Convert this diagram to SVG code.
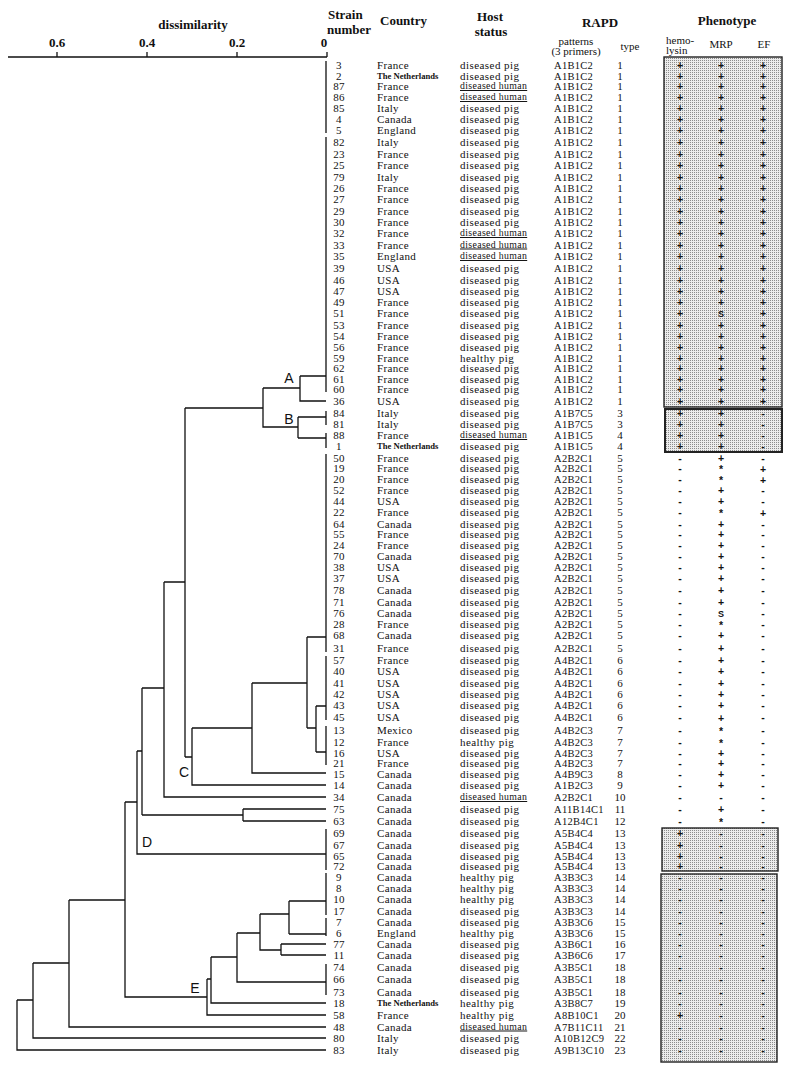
<svg xmlns="http://www.w3.org/2000/svg" width="793" height="1074" viewBox="0 0 793 1074">
<style>
text{font-family:"Liberation Serif",serif;fill:#111}
.n{font-size:11px;letter-spacing:0.3px;text-anchor:middle}
.c{font-size:11px;letter-spacing:0.35px}
.cn{font-size:8.6px;font-weight:bold}
.h{font-size:11px;letter-spacing:0.45px}
.hu{font-size:9.8px;letter-spacing:0.35px;text-decoration:underline}
.r{font-size:10.5px;letter-spacing:0.3px}
.t{font-size:11px;text-anchor:middle}
.p{font-family:"Liberation Sans",sans-serif;font-size:10.5px;font-weight:bold;text-anchor:middle}
.hd{font-weight:bold;font-size:13px}
.hm{text-anchor:middle}
.sm{font-size:11px}
.lb{font-family:"Liberation Sans",sans-serif;font-size:14px;text-anchor:middle}
.ln{fill:none;stroke:#111;stroke-width:1.3}
.bx{fill:url(#dots);stroke:#222;stroke-width:1.4}
</style>
<defs>
<pattern id="dots" width="2" height="2" patternUnits="userSpaceOnUse"><rect width="2" height="2" fill="#ececec"/><rect width="1" height="1" fill="#8c8c8c"/></pattern>
</defs>
<rect width="793" height="1074" fill="#fff"/>
<g id="header">
<text class="hd hm" x="193" y="29">dissimilarity</text>
<text class="hd hm" x="57" y="47">0.6</text>
<text class="hd hm" x="147" y="47">0.4</text>
<text class="hd hm" x="237" y="47">0.2</text>
<text class="hd hm" x="324" y="47">0</text>
<text class="hd" x="328" y="19">Strain</text>
<text class="hd" x="327" y="34">number</text>
<text class="hd" x="380" y="25">Country</text>
<text class="hd hm" x="490" y="21">Host</text>
<text class="hd hm" x="491" y="36">status</text>
<text class="hd hm" x="600" y="27">RAPD</text>
<text class="sm hm" x="576" y="45">patterns</text>
<text class="sm hm" x="576" y="55">(3 primers)</text>
<text class="sm hm" x="630" y="50">type</text>
<text class="hd hm" x="727" y="25">Phenotype</text>
<text class="sm" x="666" y="44">hemo-</text>
<text class="sm" x="666" y="54">lysin</text>
<text class="sm hm" x="721" y="48">MRP</text>
<text class="sm hm" x="764" y="48">EF</text>
</g>
<g id="boxes">
<rect class="bx" x="664" y="57" width="118" height="350"/>
<rect class="bx" x="665" y="409" width="117" height="43" style="stroke-width:2"/>
<rect class="bx" x="662" y="828" width="116" height="43"/>
<rect class="bx" x="661" y="874" width="116" height="188"/>
</g>
<g id="connectors" class="ln">
<path d="M8 57H327M57 52V57M147 52V57M237 52V57M327 52V57"/>
<path d="M326 61V133M326 137V392M300 376H326M300 376V401H326M263 388H300"/>
<path d="M298 417H326M326 411V425M298 438H326M326 433V448M298 417V438M263 388V427H298M185 408H263"/>
<path d="M185 408V757M326 454V652M307 637H326M307 637V728M252 683H307M307 728H316M316 706V752M316 706H326M326 656V720M316 752H326M326 726V765"/>
<path d="M252 683V773H326M192 728H252M192 728V785H326M185 757H192"/>
<path d="M164 582H185M164 582V797H326M142 688H164M142 688V815M142 815H243M243 809V821M243 809H326M243 821H326"/>
<path d="M137 751H142M137 751V854H326M326 829V870M125 802H137M125 802V997H207"/>
<path d="M207 979V1015H326M207 979H211M211 957V1003H326M211 957H237M237 933V982H326M326 964V995"/>
<path d="M237 933H260M260 914V950H281M281 944V955M281 944H326M281 955H326M260 914H289M289 901V934M289 901H326M326 873V915M289 934H326M326 918V936"/>
<path d="M69 900H125M69 900V1027H326M33 963H69M33 963V1038H326M17 1000H33M17 1000V1050H326"/>
</g>
<g id="labels">
<text class="lb" x="289" y="383">A</text>
<text class="lb" x="289" y="424">B</text>
<text class="lb" x="184" y="777">C</text>
<text class="lb" x="147" y="847">D</text>
<text class="lb" x="195" y="993">E</text>
</g>
<g id="rows">
<g id="s3" transform="translate(0,65)"><text class="n" x="339" y="4">3</text><text class="c" x="377" y="4">France</text><text class="h" x="460" y="4">diseased pig</text><text class="r" x="554" y="4">A1B1C2</text><text class="t" x="620" y="4">1</text><text class="p" x="680" y="4">+</text><text class="p" x="721" y="4">+</text><text class="p" x="763" y="4">+</text></g>
<g id="s2" transform="translate(0,75.5)"><text class="n" x="339" y="4">2</text><text class="cn" x="377" y="3">The Netherlands</text><text class="h" x="460" y="4">diseased pig</text><text class="r" x="554" y="4">A1B1C2</text><text class="t" x="620" y="4">1</text><text class="p" x="680" y="4">+</text><text class="p" x="721" y="4">+</text><text class="p" x="763" y="4">+</text></g>
<g id="s87" transform="translate(0,86)"><text class="n" x="339" y="4">87</text><text class="c" x="377" y="4">France</text><text class="hu" x="460" y="3">diseased human</text><text class="r" x="554" y="4">A1B1C2</text><text class="t" x="620" y="4">1</text><text class="p" x="680" y="4">+</text><text class="p" x="721" y="4">+</text><text class="p" x="763" y="4">+</text></g>
<g id="s86" transform="translate(0,97)"><text class="n" x="339" y="4">86</text><text class="c" x="377" y="4">France</text><text class="hu" x="460" y="3">diseased human</text><text class="r" x="554" y="4">A1B1C2</text><text class="t" x="620" y="4">1</text><text class="p" x="680" y="4">+</text><text class="p" x="721" y="4">+</text><text class="p" x="763" y="4">+</text></g>
<g id="s85" transform="translate(0,108)"><text class="n" x="339" y="4">85</text><text class="c" x="377" y="4">Italy</text><text class="h" x="460" y="4">diseased pig</text><text class="r" x="554" y="4">A1B1C2</text><text class="t" x="620" y="4">1</text><text class="p" x="680" y="4">+</text><text class="p" x="721" y="4">+</text><text class="p" x="763" y="4">+</text></g>
<g id="s4" transform="translate(0,118.5)"><text class="n" x="339" y="4">4</text><text class="c" x="377" y="4">Canada</text><text class="h" x="460" y="4">diseased pig</text><text class="r" x="554" y="4">A1B1C2</text><text class="t" x="620" y="4">1</text><text class="p" x="680" y="4">+</text><text class="p" x="721" y="4">+</text><text class="p" x="763" y="4">+</text></g>
<g id="s5" transform="translate(0,129.5)"><text class="n" x="339" y="4">5</text><text class="c" x="377" y="4">England</text><text class="h" x="460" y="4">diseased pig</text><text class="r" x="554" y="4">A1B1C2</text><text class="t" x="620" y="4">1</text><text class="p" x="680" y="4">+</text><text class="p" x="721" y="4">+</text><text class="p" x="763" y="4">+</text></g>
<g id="s82" transform="translate(0,142)"><text class="n" x="339" y="4">82</text><text class="c" x="377" y="4">Italy</text><text class="h" x="460" y="4">diseased pig</text><text class="r" x="554" y="4">A1B1C2</text><text class="t" x="620" y="4">1</text><text class="p" x="680" y="4">+</text><text class="p" x="721" y="4">+</text><text class="p" x="763" y="4">+</text></g>
<g id="s23" transform="translate(0,154)"><text class="n" x="339" y="4">23</text><text class="c" x="377" y="4">France</text><text class="h" x="460" y="4">diseased pig</text><text class="r" x="554" y="4">A1B1C2</text><text class="t" x="620" y="4">1</text><text class="p" x="680" y="4">+</text><text class="p" x="721" y="4">+</text><text class="p" x="763" y="4">+</text></g>
<g id="s25" transform="translate(0,165)"><text class="n" x="339" y="4">25</text><text class="c" x="377" y="4">France</text><text class="h" x="460" y="4">diseased pig</text><text class="r" x="554" y="4">A1B1C2</text><text class="t" x="620" y="4">1</text><text class="p" x="680" y="4">+</text><text class="p" x="721" y="4">+</text><text class="p" x="763" y="4">+</text></g>
<g id="s79" transform="translate(0,177)"><text class="n" x="339" y="4">79</text><text class="c" x="377" y="4">Italy</text><text class="h" x="460" y="4">diseased pig</text><text class="r" x="554" y="4">A1B1C2</text><text class="t" x="620" y="4">1</text><text class="p" x="680" y="4">+</text><text class="p" x="721" y="4">+</text><text class="p" x="763" y="4">+</text></g>
<g id="s26" transform="translate(0,188)"><text class="n" x="339" y="4">26</text><text class="c" x="377" y="4">France</text><text class="h" x="460" y="4">diseased pig</text><text class="r" x="554" y="4">A1B1C2</text><text class="t" x="620" y="4">1</text><text class="p" x="680" y="4">+</text><text class="p" x="721" y="4">+</text><text class="p" x="763" y="4">+</text></g>
<g id="s27" transform="translate(0,199)"><text class="n" x="339" y="4">27</text><text class="c" x="377" y="4">France</text><text class="h" x="460" y="4">diseased pig</text><text class="r" x="554" y="4">A1B1C2</text><text class="t" x="620" y="4">1</text><text class="p" x="680" y="4">+</text><text class="p" x="721" y="4">+</text><text class="p" x="763" y="4">+</text></g>
<g id="s29" transform="translate(0,210.5)"><text class="n" x="339" y="4">29</text><text class="c" x="377" y="4">France</text><text class="h" x="460" y="4">diseased pig</text><text class="r" x="554" y="4">A1B1C2</text><text class="t" x="620" y="4">1</text><text class="p" x="680" y="4">+</text><text class="p" x="721" y="4">+</text><text class="p" x="763" y="4">+</text></g>
<g id="s30" transform="translate(0,222)"><text class="n" x="339" y="4">30</text><text class="c" x="377" y="4">France</text><text class="h" x="460" y="4">diseased pig</text><text class="r" x="554" y="4">A1B1C2</text><text class="t" x="620" y="4">1</text><text class="p" x="680" y="4">+</text><text class="p" x="721" y="4">+</text><text class="p" x="763" y="4">+</text></g>
<g id="s32" transform="translate(0,233)"><text class="n" x="339" y="4">32</text><text class="c" x="377" y="4">France</text><text class="hu" x="460" y="3">diseased human</text><text class="r" x="554" y="4">A1B1C2</text><text class="t" x="620" y="4">1</text><text class="p" x="680" y="4">+</text><text class="p" x="721" y="4">+</text><text class="p" x="763" y="4">+</text></g>
<g id="s33" transform="translate(0,244.5)"><text class="n" x="339" y="4">33</text><text class="c" x="377" y="4">France</text><text class="hu" x="460" y="3">diseased human</text><text class="r" x="554" y="4">A1B1C2</text><text class="t" x="620" y="4">1</text><text class="p" x="680" y="4">+</text><text class="p" x="721" y="4">+</text><text class="p" x="763" y="4">+</text></g>
<g id="s35" transform="translate(0,256)"><text class="n" x="339" y="4">35</text><text class="c" x="377" y="4">England</text><text class="hu" x="460" y="3">diseased human</text><text class="r" x="554" y="4">A1B1C2</text><text class="t" x="620" y="4">1</text><text class="p" x="680" y="4">+</text><text class="p" x="721" y="4">+</text><text class="p" x="763" y="4">+</text></g>
<g id="s39" transform="translate(0,268)"><text class="n" x="339" y="4">39</text><text class="c" x="377" y="4">USA</text><text class="h" x="460" y="4">diseased pig</text><text class="r" x="554" y="4">A1B1C2</text><text class="t" x="620" y="4">1</text><text class="p" x="680" y="4">+</text><text class="p" x="721" y="4">+</text><text class="p" x="763" y="4">+</text></g>
<g id="s46" transform="translate(0,279.5)"><text class="n" x="339" y="4">46</text><text class="c" x="377" y="4">USA</text><text class="h" x="460" y="4">diseased pig</text><text class="r" x="554" y="4">A1B1C2</text><text class="t" x="620" y="4">1</text><text class="p" x="680" y="4">+</text><text class="p" x="721" y="4">+</text><text class="p" x="763" y="4">+</text></g>
<g id="s47" transform="translate(0,290.5)"><text class="n" x="339" y="4">47</text><text class="c" x="377" y="4">USA</text><text class="h" x="460" y="4">diseased pig</text><text class="r" x="554" y="4">A1B1C2</text><text class="t" x="620" y="4">1</text><text class="p" x="680" y="4">+</text><text class="p" x="721" y="4">+</text><text class="p" x="763" y="4">+</text></g>
<g id="s49" transform="translate(0,302)"><text class="n" x="339" y="4">49</text><text class="c" x="377" y="4">France</text><text class="h" x="460" y="4">diseased pig</text><text class="r" x="554" y="4">A1B1C2</text><text class="t" x="620" y="4">1</text><text class="p" x="680" y="4">+</text><text class="p" x="721" y="4">+</text><text class="p" x="763" y="4">+</text></g>
<g id="s51" transform="translate(0,313)"><text class="n" x="339" y="4">51</text><text class="c" x="377" y="4">France</text><text class="h" x="460" y="4">diseased pig</text><text class="r" x="554" y="4">A1B1C2</text><text class="t" x="620" y="4">1</text><text class="p" x="680" y="4">+</text><text class="p" x="721" y="4" style="font-size:9px">S</text><text class="p" x="763" y="4">+</text></g>
<g id="s53" transform="translate(0,324.5)"><text class="n" x="339" y="4">53</text><text class="c" x="377" y="4">France</text><text class="h" x="460" y="4">diseased pig</text><text class="r" x="554" y="4">A1B1C2</text><text class="t" x="620" y="4">1</text><text class="p" x="680" y="4">+</text><text class="p" x="721" y="4">+</text><text class="p" x="763" y="4">+</text></g>
<g id="s54" transform="translate(0,336)"><text class="n" x="339" y="4">54</text><text class="c" x="377" y="4">France</text><text class="h" x="460" y="4">diseased pig</text><text class="r" x="554" y="4">A1B1C2</text><text class="t" x="620" y="4">1</text><text class="p" x="680" y="4">+</text><text class="p" x="721" y="4">+</text><text class="p" x="763" y="4">+</text></g>
<g id="s56" transform="translate(0,347)"><text class="n" x="339" y="4">56</text><text class="c" x="377" y="4">France</text><text class="h" x="460" y="4">diseased pig</text><text class="r" x="554" y="4">A1B1C2</text><text class="t" x="620" y="4">1</text><text class="p" x="680" y="4">+</text><text class="p" x="721" y="4">+</text><text class="p" x="763" y="4">+</text></g>
<g id="s59" transform="translate(0,357.5)"><text class="n" x="339" y="4">59</text><text class="c" x="377" y="4">France</text><text class="h" x="460" y="4">healthy  pig</text><text class="r" x="554" y="4">A1B1C2</text><text class="t" x="620" y="4">1</text><text class="p" x="680" y="4">+</text><text class="p" x="721" y="4">+</text><text class="p" x="763" y="4">+</text></g>
<g id="s62" transform="translate(0,368)"><text class="n" x="339" y="4">62</text><text class="c" x="377" y="4">France</text><text class="h" x="460" y="4">diseased pig</text><text class="r" x="554" y="4">A1B1C2</text><text class="t" x="620" y="4">1</text><text class="p" x="680" y="4">+</text><text class="p" x="721" y="4">+</text><text class="p" x="763" y="4">+</text></g>
<g id="s61" transform="translate(0,378.5)"><text class="n" x="339" y="4">61</text><text class="c" x="377" y="4">France</text><text class="h" x="460" y="4">diseased pig</text><text class="r" x="554" y="4">A1B1C2</text><text class="t" x="620" y="4">1</text><text class="p" x="680" y="4">+</text><text class="p" x="721" y="4">+</text><text class="p" x="763" y="4">+</text></g>
<g id="s60" transform="translate(0,389)"><text class="n" x="339" y="4">60</text><text class="c" x="377" y="4">France</text><text class="h" x="460" y="4">diseased pig</text><text class="r" x="554" y="4">A1B1C2</text><text class="t" x="620" y="4">1</text><text class="p" x="680" y="4">+</text><text class="p" x="721" y="4">+</text><text class="p" x="763" y="4">+</text></g>
<g id="s36" transform="translate(0,401)"><text class="n" x="339" y="4">36</text><text class="c" x="377" y="4">USA</text><text class="h" x="460" y="4">diseased pig</text><text class="r" x="554" y="4">A1B1C2</text><text class="t" x="620" y="4">1</text><text class="p" x="680" y="4">+</text><text class="p" x="721" y="4">+</text><text class="p" x="763" y="4">+</text></g>
<g id="s84" transform="translate(0,412.5)"><text class="n" x="339" y="4">84</text><text class="c" x="377" y="4">Italy</text><text class="h" x="460" y="4">diseased pig</text><text class="r" x="554" y="4">A1B7C5</text><text class="t" x="620" y="4">3</text><text class="p" x="680" y="4">+</text><text class="p" x="721" y="4">+</text><text class="p" x="763" y="4">-</text></g>
<g id="s81" transform="translate(0,423.5)"><text class="n" x="339" y="4">81</text><text class="c" x="377" y="4">Italy</text><text class="h" x="460" y="4">diseased pig</text><text class="r" x="554" y="4">A1B7C5</text><text class="t" x="620" y="4">3</text><text class="p" x="680" y="4">+</text><text class="p" x="721" y="4">+</text><text class="p" x="763" y="4">-</text></g>
<g id="s88" transform="translate(0,435)"><text class="n" x="339" y="4">88</text><text class="c" x="377" y="4">France</text><text class="hu" x="460" y="3">diseased human</text><text class="r" x="554" y="4">A1B1C5</text><text class="t" x="620" y="4">4</text><text class="p" x="680" y="4">+</text><text class="p" x="721" y="4">+</text><text class="p" x="763" y="4">-</text></g>
<g id="s1" transform="translate(0,446)"><text class="n" x="339" y="4">1</text><text class="cn" x="377" y="3">The Netherlands</text><text class="h" x="460" y="4">diseased pig</text><text class="r" x="554" y="4">A1B1C5</text><text class="t" x="620" y="4">4</text><text class="p" x="680" y="4">+</text><text class="p" x="721" y="4">+</text><text class="p" x="763" y="4">-</text></g>
<g id="s50" transform="translate(0,457.5)"><text class="n" x="339" y="4">50</text><text class="c" x="377" y="4">France</text><text class="h" x="460" y="4">diseased pig</text><text class="r" x="554" y="4">A2B2C1</text><text class="t" x="620" y="4">5</text><text class="p" x="680" y="4">-</text><text class="p" x="721" y="4">+</text><text class="p" x="763" y="4">-</text></g>
<g id="s19" transform="translate(0,468)"><text class="n" x="339" y="4">19</text><text class="c" x="377" y="4">France</text><text class="h" x="460" y="4">diseased pig</text><text class="r" x="554" y="4">A2B2C1</text><text class="t" x="620" y="4">5</text><text class="p" x="680" y="4">-</text><text class="p" x="721" y="5">*</text><text class="p" x="763" y="5">+</text></g>
<g id="s20" transform="translate(0,478.5)"><text class="n" x="339" y="4">20</text><text class="c" x="377" y="4">France</text><text class="h" x="460" y="4">diseased pig</text><text class="r" x="554" y="4">A2B2C1</text><text class="t" x="620" y="4">5</text><text class="p" x="680" y="4">-</text><text class="p" x="721" y="5">*</text><text class="p" x="763" y="5">+</text></g>
<g id="s52" transform="translate(0,490)"><text class="n" x="339" y="4">52</text><text class="c" x="377" y="4">France</text><text class="h" x="460" y="4">diseased pig</text><text class="r" x="554" y="4">A2B2C1</text><text class="t" x="620" y="4">5</text><text class="p" x="680" y="4">-</text><text class="p" x="721" y="4">+</text><text class="p" x="763" y="4">-</text></g>
<g id="s44" transform="translate(0,500.5)"><text class="n" x="339" y="4">44</text><text class="c" x="377" y="4">USA</text><text class="h" x="460" y="4">diseased pig</text><text class="r" x="554" y="4">A2B2C1</text><text class="t" x="620" y="4">5</text><text class="p" x="680" y="4">-</text><text class="p" x="721" y="4">+</text><text class="p" x="763" y="4">-</text></g>
<g id="s22" transform="translate(0,512)"><text class="n" x="339" y="4">22</text><text class="c" x="377" y="4">France</text><text class="h" x="460" y="4">diseased pig</text><text class="r" x="554" y="4">A2B2C1</text><text class="t" x="620" y="4">5</text><text class="p" x="680" y="4">-</text><text class="p" x="721" y="5">*</text><text class="p" x="763" y="5">+</text></g>
<g id="s64" transform="translate(0,523.5)"><text class="n" x="339" y="4">64</text><text class="c" x="377" y="4">Canada</text><text class="h" x="460" y="4">diseased pig</text><text class="r" x="554" y="4">A2B2C1</text><text class="t" x="620" y="4">5</text><text class="p" x="680" y="4">-</text><text class="p" x="721" y="4">+</text><text class="p" x="763" y="4">-</text></g>
<g id="s55" transform="translate(0,534)"><text class="n" x="339" y="4">55</text><text class="c" x="377" y="4">France</text><text class="h" x="460" y="4">diseased pig</text><text class="r" x="554" y="4">A2B2C1</text><text class="t" x="620" y="4">5</text><text class="p" x="680" y="4">-</text><text class="p" x="721" y="4">+</text><text class="p" x="763" y="4">-</text></g>
<g id="s24" transform="translate(0,545)"><text class="n" x="339" y="4">24</text><text class="c" x="377" y="4">France</text><text class="h" x="460" y="4">diseased pig</text><text class="r" x="554" y="4">A2B2C1</text><text class="t" x="620" y="4">5</text><text class="p" x="680" y="4">-</text><text class="p" x="721" y="4">+</text><text class="p" x="763" y="4">-</text></g>
<g id="s70" transform="translate(0,556)"><text class="n" x="339" y="4">70</text><text class="c" x="377" y="4">Canada</text><text class="h" x="460" y="4">diseased pig</text><text class="r" x="554" y="4">A2B2C1</text><text class="t" x="620" y="4">5</text><text class="p" x="680" y="4">-</text><text class="p" x="721" y="4">+</text><text class="p" x="763" y="4">-</text></g>
<g id="s38" transform="translate(0,566.5)"><text class="n" x="339" y="4">38</text><text class="c" x="377" y="4">USA</text><text class="h" x="460" y="4">diseased pig</text><text class="r" x="554" y="4">A2B2C1</text><text class="t" x="620" y="4">5</text><text class="p" x="680" y="4">-</text><text class="p" x="721" y="4">+</text><text class="p" x="763" y="4">-</text></g>
<g id="s37" transform="translate(0,578)"><text class="n" x="339" y="4">37</text><text class="c" x="377" y="4">USA</text><text class="h" x="460" y="4">diseased pig</text><text class="r" x="554" y="4">A2B2C1</text><text class="t" x="620" y="4">5</text><text class="p" x="680" y="4">-</text><text class="p" x="721" y="4">+</text><text class="p" x="763" y="4">-</text></g>
<g id="s78" transform="translate(0,589.5)"><text class="n" x="339" y="4">78</text><text class="c" x="377" y="4">Canada</text><text class="h" x="460" y="4">diseased pig</text><text class="r" x="554" y="4">A2B2C1</text><text class="t" x="620" y="4">5</text><text class="p" x="680" y="4">-</text><text class="p" x="721" y="4">+</text><text class="p" x="763" y="4">-</text></g>
<g id="s71" transform="translate(0,602)"><text class="n" x="339" y="4">71</text><text class="c" x="377" y="4">Canada</text><text class="h" x="460" y="4">diseased pig</text><text class="r" x="554" y="4">A2B2C1</text><text class="t" x="620" y="4">5</text><text class="p" x="680" y="4">-</text><text class="p" x="721" y="4">+</text><text class="p" x="763" y="4">-</text></g>
<g id="s76" transform="translate(0,613)"><text class="n" x="339" y="4">76</text><text class="c" x="377" y="4">Canada</text><text class="h" x="460" y="4">diseased pig</text><text class="r" x="554" y="4">A2B2C1</text><text class="t" x="620" y="4">5</text><text class="p" x="680" y="4">-</text><text class="p" x="721" y="4" style="font-size:9px">S</text><text class="p" x="763" y="4">-</text></g>
<g id="s28" transform="translate(0,623.5)"><text class="n" x="339" y="4">28</text><text class="c" x="377" y="4">France</text><text class="h" x="460" y="4">diseased pig</text><text class="r" x="554" y="4">A2B2C1</text><text class="t" x="620" y="4">5</text><text class="p" x="680" y="4">-</text><text class="p" x="721" y="5">*</text><text class="p" x="763" y="4">-</text></g>
<g id="s68" transform="translate(0,635)"><text class="n" x="339" y="4">68</text><text class="c" x="377" y="4">Canada</text><text class="h" x="460" y="4">diseased pig</text><text class="r" x="554" y="4">A2B2C1</text><text class="t" x="620" y="4">5</text><text class="p" x="680" y="4">-</text><text class="p" x="721" y="4">+</text><text class="p" x="763" y="4">-</text></g>
<g id="s31" transform="translate(0,648)"><text class="n" x="339" y="4">31</text><text class="c" x="377" y="4">France</text><text class="h" x="460" y="4">diseased pig</text><text class="r" x="554" y="4">A2B2C1</text><text class="t" x="620" y="4">5</text><text class="p" x="680" y="4">-</text><text class="p" x="721" y="4">+</text><text class="p" x="763" y="4">-</text></g>
<g id="s57" transform="translate(0,660)"><text class="n" x="339" y="4">57</text><text class="c" x="377" y="4">France</text><text class="h" x="460" y="4">diseased pig</text><text class="r" x="554" y="4">A4B2C1</text><text class="t" x="620" y="4">6</text><text class="p" x="680" y="4">-</text><text class="p" x="721" y="4">+</text><text class="p" x="763" y="4">-</text></g>
<g id="s40" transform="translate(0,671)"><text class="n" x="339" y="4">40</text><text class="c" x="377" y="4">USA</text><text class="h" x="460" y="4">diseased pig</text><text class="r" x="554" y="4">A4B2C1</text><text class="t" x="620" y="4">6</text><text class="p" x="680" y="4">-</text><text class="p" x="721" y="4">+</text><text class="p" x="763" y="4">-</text></g>
<g id="s41" transform="translate(0,682.5)"><text class="n" x="339" y="4">41</text><text class="c" x="377" y="4">USA</text><text class="h" x="460" y="4">diseased pig</text><text class="r" x="554" y="4">A4B2C1</text><text class="t" x="620" y="4">6</text><text class="p" x="680" y="4">-</text><text class="p" x="721" y="4">+</text><text class="p" x="763" y="4">-</text></g>
<g id="s42" transform="translate(0,694)"><text class="n" x="339" y="4">42</text><text class="c" x="377" y="4">USA</text><text class="h" x="460" y="4">diseased pig</text><text class="r" x="554" y="4">A4B2C1</text><text class="t" x="620" y="4">6</text><text class="p" x="680" y="4">-</text><text class="p" x="721" y="4">+</text><text class="p" x="763" y="4">-</text></g>
<g id="s43" transform="translate(0,705)"><text class="n" x="339" y="4">43</text><text class="c" x="377" y="4">USA</text><text class="h" x="460" y="4">diseased pig</text><text class="r" x="554" y="4">A4B2C1</text><text class="t" x="620" y="4">6</text><text class="p" x="680" y="4">-</text><text class="p" x="721" y="4">+</text><text class="p" x="763" y="4">-</text></g>
<g id="s45" transform="translate(0,717)"><text class="n" x="339" y="4">45</text><text class="c" x="377" y="4">USA</text><text class="h" x="460" y="4">diseased pig</text><text class="r" x="554" y="4">A4B2C1</text><text class="t" x="620" y="4">6</text><text class="p" x="680" y="4">-</text><text class="p" x="721" y="5">+</text><text class="p" x="763" y="4">-</text></g>
<g id="s13" transform="translate(0,730)"><text class="n" x="339" y="4">13</text><text class="c" x="377" y="4">Mexico</text><text class="h" x="460" y="4">diseased pig</text><text class="r" x="554" y="4">A4B2C3</text><text class="t" x="620" y="4">7</text><text class="p" x="680" y="4">-</text><text class="p" x="721" y="5">*</text><text class="p" x="763" y="4">-</text></g>
<g id="s12" transform="translate(0,741.5)"><text class="n" x="339" y="4">12</text><text class="c" x="377" y="4">France</text><text class="h" x="460" y="4">healthy pig</text><text class="r" x="554" y="4">A4B2C3</text><text class="t" x="620" y="4">7</text><text class="p" x="680" y="4">-</text><text class="p" x="721" y="5">*</text><text class="p" x="763" y="4">-</text></g>
<g id="s16" transform="translate(0,752.5)"><text class="n" x="339" y="4">16</text><text class="c" x="377" y="4">USA</text><text class="h" x="460" y="4">diseased pig</text><text class="r" x="554" y="4">A4B2C3</text><text class="t" x="620" y="4">7</text><text class="p" x="680" y="4">-</text><text class="p" x="721" y="4">+</text><text class="p" x="763" y="4">-</text></g>
<g id="s21" transform="translate(0,763)"><text class="n" x="339" y="4">21</text><text class="c" x="377" y="4">France</text><text class="h" x="460" y="4">diseased pig</text><text class="r" x="554" y="4">A4B2C3</text><text class="t" x="620" y="4">7</text><text class="p" x="680" y="4">-</text><text class="p" x="721" y="4">+</text><text class="p" x="763" y="4">-</text></g>
<g id="s15" transform="translate(0,773.5)"><text class="n" x="339" y="4">15</text><text class="c" x="377" y="4">Canada</text><text class="h" x="460" y="4">diseased pig</text><text class="r" x="554" y="4">A4B9C3</text><text class="t" x="620" y="4">8</text><text class="p" x="680" y="4">-</text><text class="p" x="721" y="4">+</text><text class="p" x="763" y="4">-</text></g>
<g id="s14" transform="translate(0,785)"><text class="n" x="339" y="4">14</text><text class="c" x="377" y="4">Canada</text><text class="h" x="460" y="4">diseased pig</text><text class="r" x="554" y="4">A1B2C3</text><text class="t" x="620" y="4">9</text><text class="p" x="680" y="4">-</text><text class="p" x="721" y="4">+</text><text class="p" x="763" y="4">-</text></g>
<g id="s34" transform="translate(0,797)"><text class="n" x="339" y="4">34</text><text class="c" x="377" y="4">Canada</text><text class="hu" x="460" y="3">diseased human</text><text class="r" x="554" y="4">A2B2C1</text><text class="t" x="620" y="4">10</text><text class="p" x="680" y="4">-</text><text class="p" x="721" y="4">-</text><text class="p" x="763" y="4">-</text></g>
<g id="s75" transform="translate(0,809)"><text class="n" x="339" y="4">75</text><text class="c" x="377" y="4">Canada</text><text class="h" x="460" y="4">diseased pig</text><text class="r" x="554" y="4">A11B14C1</text><text class="t" x="620" y="4">11</text><text class="p" x="680" y="4">-</text><text class="p" x="721" y="4">+</text><text class="p" x="763" y="4">-</text></g>
<g id="s63" transform="translate(0,821)"><text class="n" x="339" y="4">63</text><text class="c" x="377" y="4">Canada</text><text class="h" x="460" y="4">diseased pig</text><text class="r" x="554" y="4">A12B4C1</text><text class="t" x="620" y="4">12</text><text class="p" x="680" y="4">-</text><text class="p" x="721" y="5">*</text><text class="p" x="763" y="4">-</text></g>
<g id="s69" transform="translate(0,833)"><text class="n" x="339" y="4">69</text><text class="c" x="377" y="4">Canada</text><text class="h" x="460" y="4">diseased pig</text><text class="r" x="554" y="4">A5B4C4</text><text class="t" x="620" y="4">13</text><text class="p" x="680" y="4">+</text><text class="p" x="721" y="4">-</text><text class="p" x="763" y="4">-</text></g>
<g id="s67" transform="translate(0,844.5)"><text class="n" x="339" y="4">67</text><text class="c" x="377" y="4">Canada</text><text class="h" x="460" y="4">diseased pig</text><text class="r" x="554" y="4">A5B4C4</text><text class="t" x="620" y="4">13</text><text class="p" x="680" y="4">+</text><text class="p" x="721" y="4">-</text><text class="p" x="763" y="4">-</text></g>
<g id="s65" transform="translate(0,855.5)"><text class="n" x="339" y="4">65</text><text class="c" x="377" y="4">Canada</text><text class="h" x="460" y="4">diseased pig</text><text class="r" x="554" y="4">A5B4C4</text><text class="t" x="620" y="4">13</text><text class="p" x="680" y="4">+</text><text class="p" x="721" y="4">-</text><text class="p" x="763" y="4">-</text></g>
<g id="s72" transform="translate(0,866)"><text class="n" x="339" y="4">72</text><text class="c" x="377" y="4">Canada</text><text class="h" x="460" y="4">diseased pig</text><text class="r" x="554" y="4">A5B4C4</text><text class="t" x="620" y="4">13</text><text class="p" x="680" y="4">+</text><text class="p" x="721" y="4">-</text><text class="p" x="763" y="4">-</text></g>
<g id="s9" transform="translate(0,877)"><text class="n" x="339" y="4">9</text><text class="c" x="377" y="4">Canada</text><text class="h" x="460" y="4">healthy pig</text><text class="r" x="554" y="4">A3B3C3</text><text class="t" x="620" y="4">14</text><text class="p" x="680" y="4">-</text><text class="p" x="721" y="4">-</text><text class="p" x="763" y="4">-</text></g>
<g id="s8" transform="translate(0,887.5)"><text class="n" x="339" y="4">8</text><text class="c" x="377" y="4">Canada</text><text class="h" x="460" y="4">healthy  pig</text><text class="r" x="554" y="4">A3B3C3</text><text class="t" x="620" y="4">14</text><text class="p" x="680" y="4">-</text><text class="p" x="721" y="4">-</text><text class="p" x="763" y="4">-</text></g>
<g id="s10" transform="translate(0,898.5)"><text class="n" x="339" y="4">10</text><text class="c" x="377" y="4">Canada</text><text class="h" x="460" y="4">healthy pig</text><text class="r" x="554" y="4">A3B3C3</text><text class="t" x="620" y="4">14</text><text class="p" x="680" y="4">-</text><text class="p" x="721" y="4">-</text><text class="p" x="763" y="4">-</text></g>
<g id="s17" transform="translate(0,911)"><text class="n" x="339" y="4">17</text><text class="c" x="377" y="4">Canada</text><text class="h" x="460" y="4">diseased pig</text><text class="r" x="554" y="4">A3B3C3</text><text class="t" x="620" y="4">14</text><text class="p" x="680" y="4">-</text><text class="p" x="721" y="4">-</text><text class="p" x="763" y="4">-</text></g>
<g id="s7" transform="translate(0,922)"><text class="n" x="339" y="4">7</text><text class="c" x="377" y="4">Canada</text><text class="h" x="460" y="4">diseased pig</text><text class="r" x="554" y="4">A3B3C6</text><text class="t" x="620" y="4">15</text><text class="p" x="680" y="4">-</text><text class="p" x="721" y="4">-</text><text class="p" x="763" y="4">-</text></g>
<g id="s6" transform="translate(0,933)"><text class="n" x="339" y="4">6</text><text class="c" x="377" y="4">England</text><text class="h" x="460" y="4">healthy pig</text><text class="r" x="554" y="4">A3B3C6</text><text class="t" x="620" y="4">15</text><text class="p" x="680" y="4">-</text><text class="p" x="721" y="4">-</text><text class="p" x="763" y="4">-</text></g>
<g id="s77" transform="translate(0,944)"><text class="n" x="339" y="4">77</text><text class="c" x="377" y="4">Canada</text><text class="h" x="460" y="4">diseased pig</text><text class="r" x="554" y="4">A3B6C1</text><text class="t" x="620" y="4">16</text><text class="p" x="680" y="4">-</text><text class="p" x="721" y="4">-</text><text class="p" x="763" y="4">-</text></g>
<g id="s11" transform="translate(0,955)"><text class="n" x="339" y="4">11</text><text class="c" x="377" y="4">Canada</text><text class="h" x="460" y="4">diseased pig</text><text class="r" x="554" y="4">A3B6C6</text><text class="t" x="620" y="4">17</text><text class="p" x="680" y="4">-</text><text class="p" x="721" y="4">-</text><text class="p" x="763" y="4">-</text></g>
<g id="s74" transform="translate(0,967)"><text class="n" x="339" y="4">74</text><text class="c" x="377" y="4">Canada</text><text class="h" x="460" y="4">diseased pig</text><text class="r" x="554" y="4">A3B5C1</text><text class="t" x="620" y="4">18</text><text class="p" x="680" y="4">-</text><text class="p" x="721" y="4">-</text><text class="p" x="763" y="4">-</text></g>
<g id="s66" transform="translate(0,979)"><text class="n" x="339" y="4">66</text><text class="c" x="377" y="4">Canada</text><text class="h" x="460" y="4">diseased pig</text><text class="r" x="554" y="4">A3B5C1</text><text class="t" x="620" y="4">18</text><text class="p" x="680" y="4">-</text><text class="p" x="721" y="4">-</text><text class="p" x="763" y="4">-</text></g>
<g id="s73" transform="translate(0,991.5)"><text class="n" x="339" y="4">73</text><text class="c" x="377" y="4">Canada</text><text class="h" x="460" y="4">diseased pig</text><text class="r" x="554" y="4">A3B5C1</text><text class="t" x="620" y="4">18</text><text class="p" x="680" y="4">-</text><text class="p" x="721" y="4">-</text><text class="p" x="763" y="4">-</text></g>
<g id="s18" transform="translate(0,1003)"><text class="n" x="339" y="4">18</text><text class="cn" x="377" y="3">The Netherlands</text><text class="h" x="460" y="4">healthy pig</text><text class="r" x="554" y="4">A3B8C7</text><text class="t" x="620" y="4">19</text><text class="p" x="680" y="4">-</text><text class="p" x="721" y="4">-</text><text class="p" x="763" y="4">-</text></g>
<g id="s58" transform="translate(0,1015)"><text class="n" x="339" y="4">58</text><text class="c" x="377" y="4">France</text><text class="h" x="460" y="4">healthy pig</text><text class="r" x="554" y="4">A8B10C1</text><text class="t" x="620" y="4">20</text><text class="p" x="680" y="4">+</text><text class="p" x="721" y="4">-</text><text class="p" x="763" y="4">-</text></g>
<g id="s48" transform="translate(0,1026.5)"><text class="n" x="339" y="4">48</text><text class="c" x="377" y="4">Canada</text><text class="hu" x="460" y="3">diseased human</text><text class="r" x="554" y="4">A7B11C11</text><text class="t" x="620" y="4">21</text><text class="p" x="680" y="4">-</text><text class="p" x="721" y="4">-</text><text class="p" x="763" y="4">-</text></g>
<g id="s80" transform="translate(0,1037.5)"><text class="n" x="339" y="4">80</text><text class="c" x="377" y="4">Italy</text><text class="h" x="460" y="4">diseased pig</text><text class="r" x="554" y="4">A10B12C9</text><text class="t" x="620" y="4">22</text><text class="p" x="680" y="4">-</text><text class="p" x="721" y="4">-</text><text class="p" x="763" y="4">-</text></g>
<g id="s83" transform="translate(0,1050)"><text class="n" x="339" y="4">83</text><text class="c" x="377" y="4">Italy</text><text class="h" x="460" y="4">diseased pig</text><text class="r" x="554" y="4">A9B13C10</text><text class="t" x="620" y="4">23</text><text class="p" x="680" y="4">-</text><text class="p" x="721" y="4">-</text><text class="p" x="763" y="4">-</text></g>
</g>
</svg>
